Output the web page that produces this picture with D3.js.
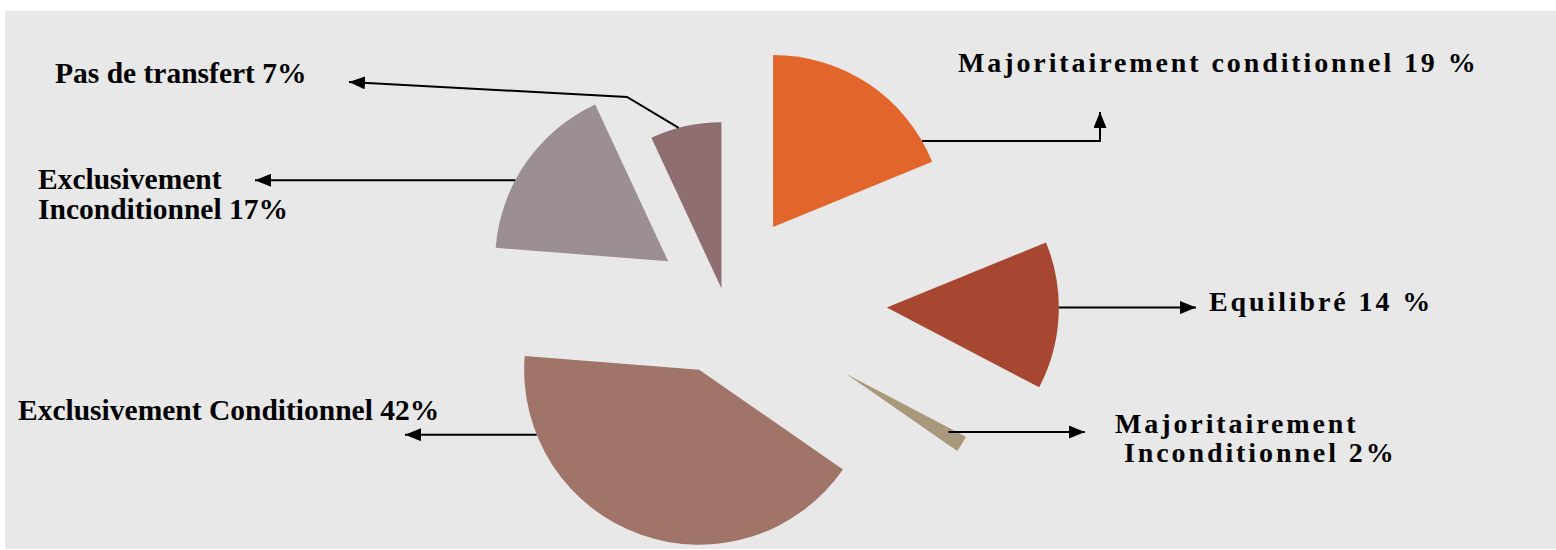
<!DOCTYPE html>
<html>
<head>
<meta charset="utf-8">
<script src="https://cdn.jsdelivr.net/npm/d3@7"></script>
<style>
  html, body { margin: 0; padding: 0; background: #ffffff; }
  svg { display: block; }
</style>
</head>
<body>
<svg id="chart" width="1556" height="550"></svg>
<script>
// Répartition des modes de transfert (%)
const categories = [
  "Majoritairement conditionnel",
  "Equilibré",
  "Majoritairement Inconditionnel",
  "Exclusivement Conditionnel",
  "Exclusivement Inconditionnel",
  "Pas de transfert"
];
const shares = [19, 14, 2, 42, 17, 7];
const labelLines = [
  ["Majoritairement conditionnel 19 %"],
  ["Equilibré 14 %"],
  ["Majoritairement", "Inconditionnel 2%"],
  ["Exclusivement Conditionnel 42%"],
  ["Exclusivement", "Inconditionnel 17%"],
  ["Pas de transfert 7%"]
];
const colors = ["#e2652c", "#a84731", "#a8987c", "#a07468", "#9c8f94", "#8e6e70"];

// Slice layout: how far each slice is pulled out and its outer radius
const explode = [88, 163, 143, 74, 68, 12];
const radii = [172, 172, 135, 175, 173, 166];

// Leader lines: where they leave the slice (angle in degrees, fraction of radius)
// and the bends/end (arrow tip) toward the label
const anchorAngle = [60, 90, 119.6, 248.2, 297.9, 345.1];
const anchorFrac = [1, 1, 0.87, 1, 1, 1];
const leaderRoute = [
  [["x", 1100], [1100, 112]],
  [["x", 1196]],
  [["x", 1085]],
  [["x", 405]],
  [["x", 255]],
  [[627, 97], [349, 82]]
];

// Label placement: [x, baseline] per line, and text style group
const labelPos = [
  [[958, 72]],
  [[1209, 311]],
  [[1115, 433], [1124, 462]],
  [[18, 420]],
  [[38, 189], [38, 219]],
  [[55, 83]]
];
const labelSide = ["right", "right", "right", "left", "left", "left"];

const W = 1556, H = 550;
const cx = 724, cy = 300;

const svg = d3.select("#chart");

// plot background
svg.append("rect")
  .attr("x", 5).attr("y", 11)
  .attr("width", W - 5).attr("height", 538)
  .attr("fill", "#e8e8e8");

svg.append("defs").append("marker")
  .attr("id", "arrow")
  .attr("viewBox", "0 0 16 13")
  .attr("refX", 16).attr("refY", 6.5)
  .attr("markerWidth", 16).attr("markerHeight", 13)
  .attr("markerUnits", "userSpaceOnUse")
  .attr("orient", "auto")
  .append("path")
  .attr("d", "M0,0 L16,6.5 L0,13 Z")
  .attr("fill", "#000");

const data = categories.map((c, i) => ({ name: c, value: shares[i], i }));

const pie = d3.pie()
  .value(d => d.value)
  .sort(null)
  .startAngle(0)
  .endAngle(2 * Math.PI);

const arcs = pie(data);

const arcGen = d3.arc()
  .innerRadius(0)
  .outerRadius(d => radii[d.data.i]);

// offset of each slice's apex along its bisector
function apex(d) {
  const mid = (d.startAngle + d.endAngle) / 2;
  const e = explode[d.data.i];
  return [cx + e * Math.sin(mid), cy - e * Math.cos(mid)];
}

const g = svg.append("g");

g.selectAll("path.slice")
  .data(arcs)
  .join("path")
  .attr("class", "slice")
  .attr("d", arcGen)
  .attr("transform", d => {
    const [x, y] = apex(d);
    return `translate(${x},${y})`;
  })
  .attr("fill", d => colors[d.data.i]);

// leader lines with arrowheads
const lineGen = d3.line();
arcs.forEach(d => {
  const i = d.data.i;
  const [ax, ay] = apex(d);
  const a = anchorAngle[i] * Math.PI / 180;
  const r = radii[i] * anchorFrac[i];
  const start = [ax + r * Math.sin(a), ay - r * Math.cos(a)];
  const pts = [start];
  leaderRoute[i].forEach(p => {
    if (p[0] === "x") pts.push([p[1], pts[pts.length - 1][1]]);
    else pts.push(p);
  });
  svg.append("path")
    .attr("d", lineGen(pts))
    .attr("fill", "none")
    .attr("stroke", "#000")
    .attr("stroke-width", 2)
    .attr("marker-end", "url(#arrow)");
});

// labels
labelLines.forEach((lines, i) => {
  const right = labelSide[i] === "right";
  const t = svg.append("text")
    .attr("font-family", "'Liberation Serif', 'Times New Roman', serif")
    .attr("font-weight", "bold")
    .attr("font-size", right ? 28 : 29.5)
    .attr("letter-spacing", right ? 2.9 : 0)
    .attr("fill", "#000");
  lines.forEach((s, k) => {
    t.append("tspan")
      .attr("x", labelPos[i][k][0])
      .attr("y", labelPos[i][k][1])
      .text(s);
  });
});
</script>
</body>
</html>
